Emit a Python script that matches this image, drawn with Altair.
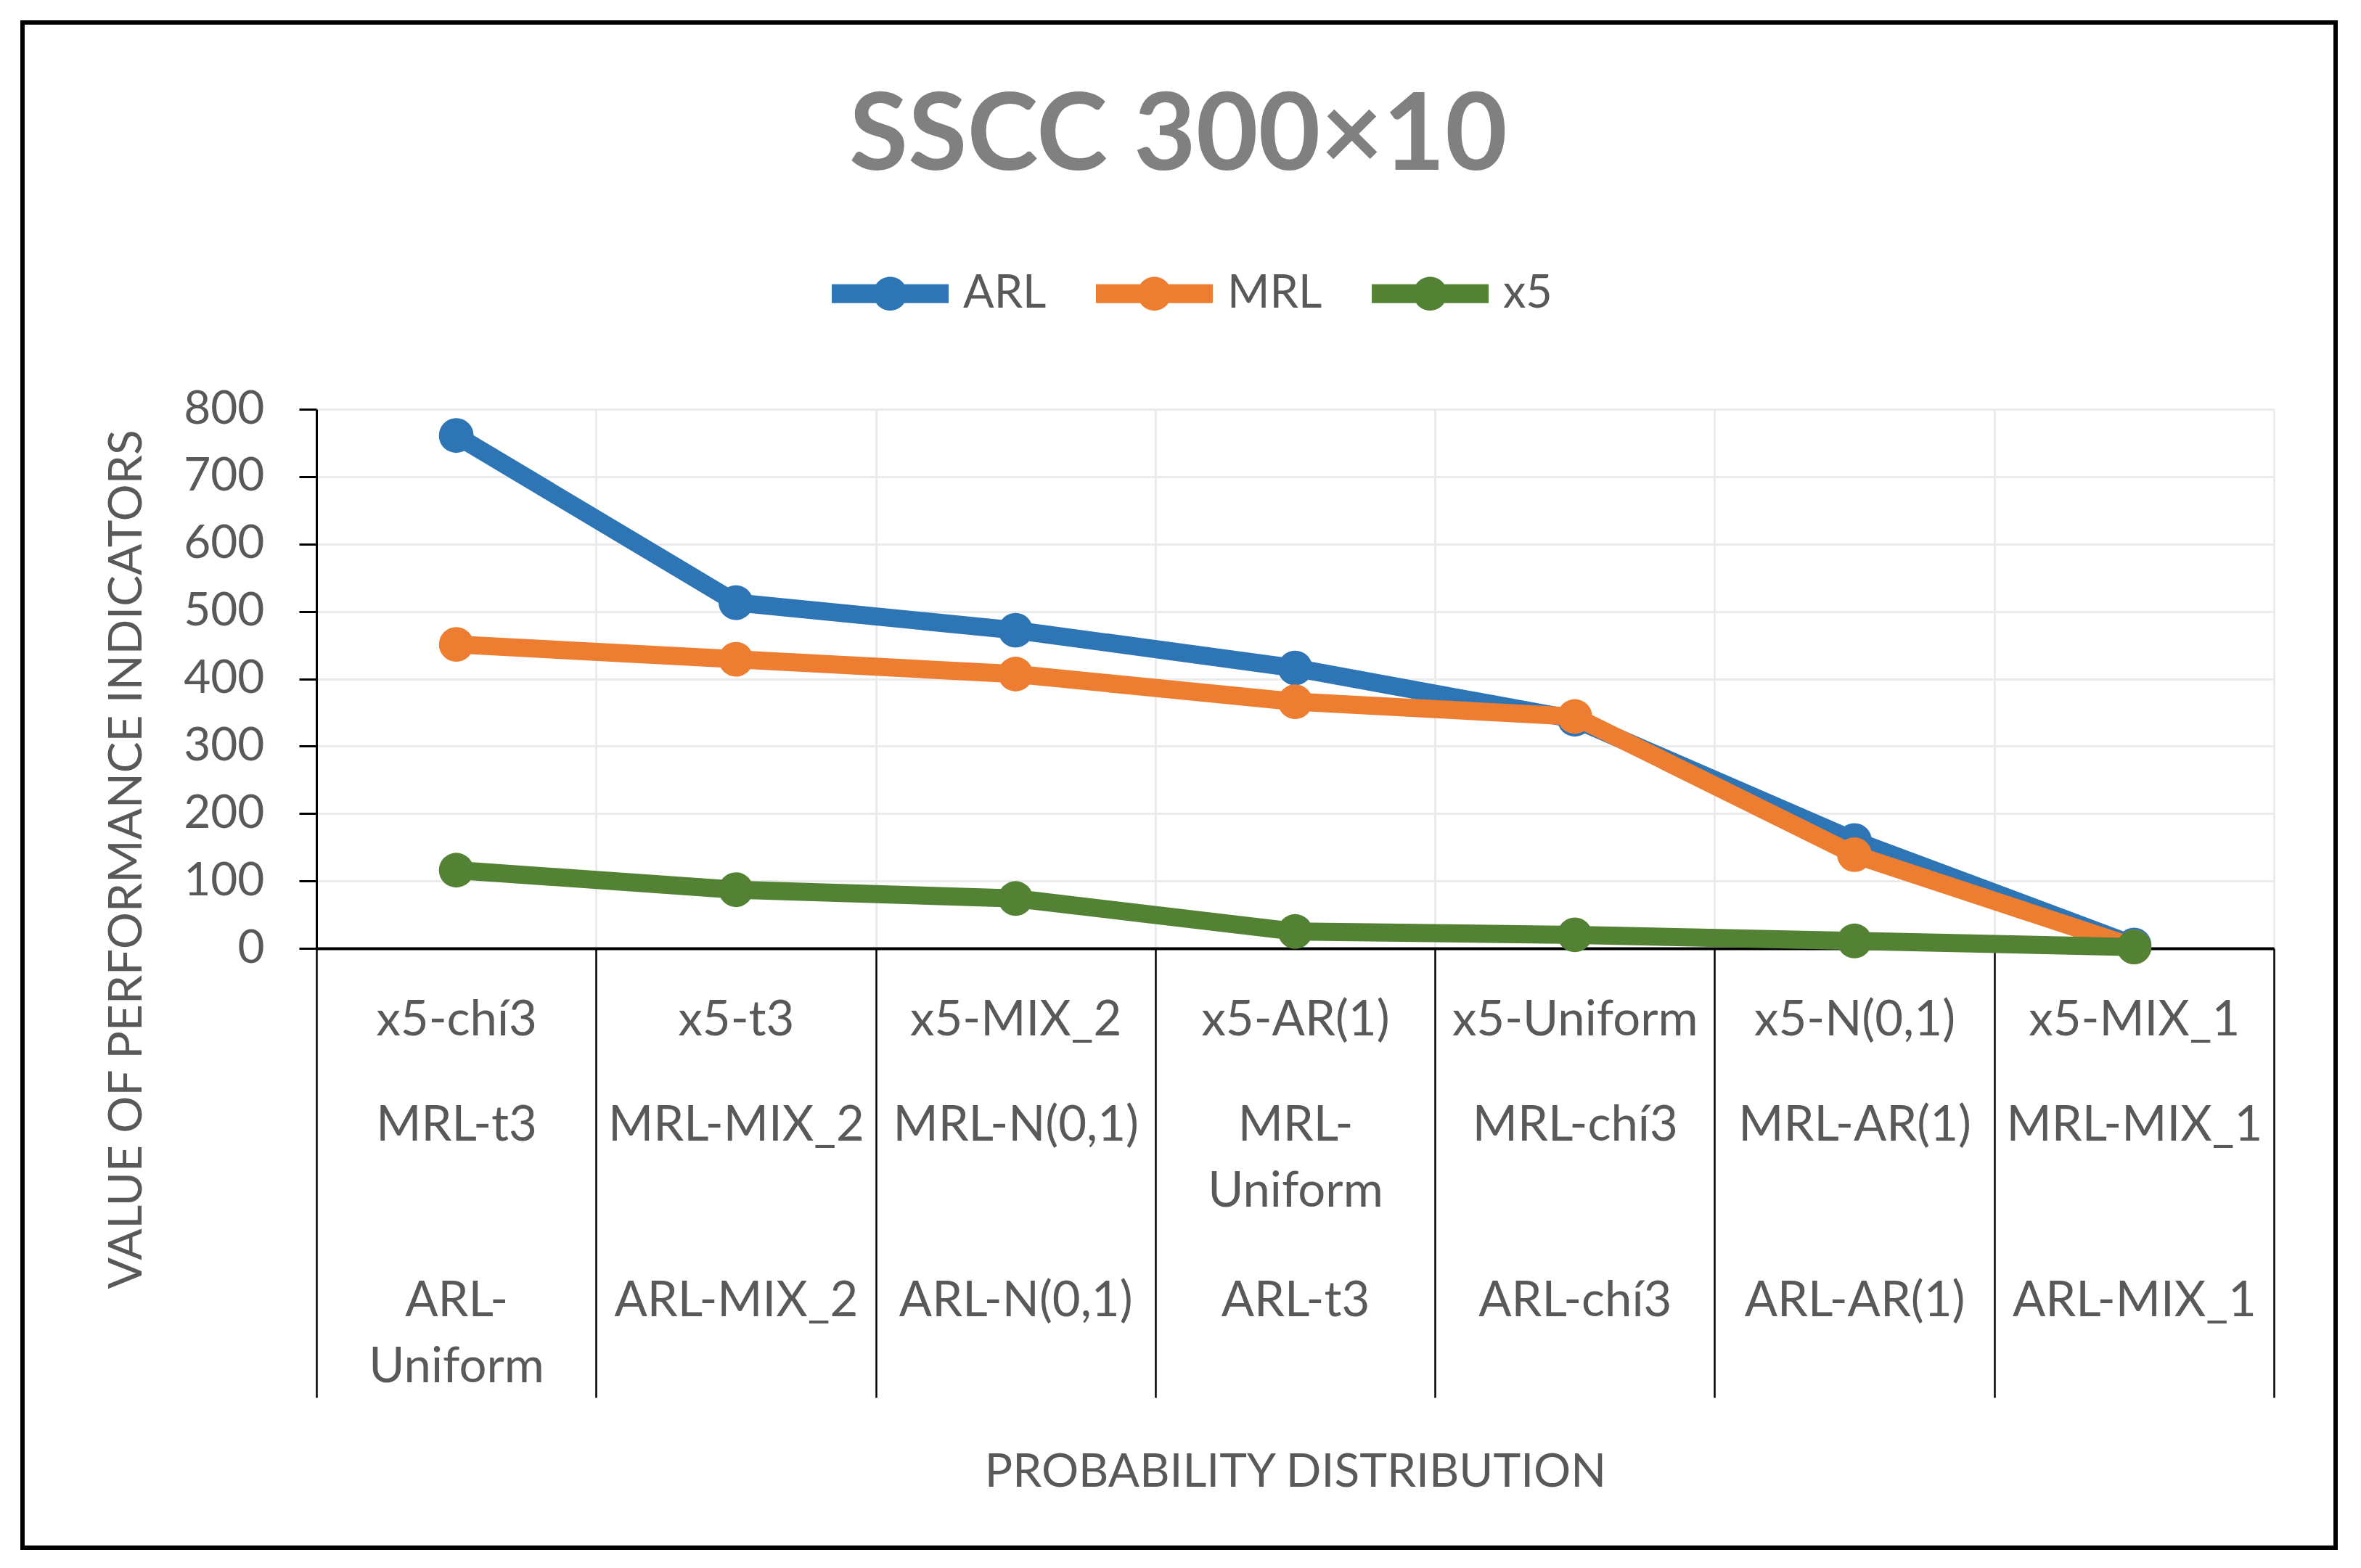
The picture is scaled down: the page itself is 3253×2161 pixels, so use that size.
import json
import altair as alt
import pandas as pd

# ---- data ----
series_names = ["ARL", "MRL", "x5"]
arl_values = [761, 513, 472, 416, 340, 160, 5]
mrl_values = [451, 429, 407, 366, 344, 139, 2]
x5_values = [116, 87, 74, 25, 20, 11, 2]

# category label rows ("|" marks a wrapped line)
x5_labels = ["x5-chí3", "x5-t3", "x5-MIX_2", "x5-AR(1)", "x5-Uniform", "x5-N(0,1)", "x5-MIX_1"]
mrl_labels = ["MRL-t3", "MRL-MIX_2", "MRL-N(0,1)", "MRL-|Uniform", "MRL-chí3", "MRL-AR(1)", "MRL-MIX_1"]
arl_labels = ["ARL-|Uniform", "ARL-MIX_2", "ARL-N(0,1)", "ARL-t3", "ARL-chí3", "ARL-AR(1)", "ARL-MIX_1"]

colors = ["#2E75B6", "#ED7D31", "#548235"]

# ---- build table ----
rows = []
for name, vals in zip(series_names, [arl_values, mrl_values, x5_values]):
    for i, v in enumerate(vals):
        rows.append({"series": name, "pos": i + 0.5, "value": v})
df = pd.DataFrame(rows)


def row_expr(labels):
    arr = json.dumps(labels, ensure_ascii=False)
    return "datum.value % 1 === 0 ? '' : split(" + arr + "[floor(datum.value)], '|')"


FONT = "Lato"
TXT = "#595959"
W, H = 2697, 743
TICK = 619
FIRST = 66          # distance of first label row below the axis line
ROW2 = FIRST + 145  # second label row
ROW3 = FIRST + 387  # third label row
is_edge = "datum.value % 1 === 0"
half_steps = [k / 2 for k in range(15)]

label_common = dict(
    values=half_steps,
    labelOverlap=False,
    labelFlush=False,
    labelBound=False,
    labelLimit=0,
    labelFont=FONT,
    labelFontSize=67,
    labelColor=TXT,
    labelLineHeight=91,
    labelBaseline="top",
    orient="bottom",
)

axis_row1 = alt.Axis(
    labelExpr=row_expr(x5_labels),
    labelPadding=FIRST - TICK,
    tickSize=TICK,
    tickWidth=2.5,
    tickColor={"condition": {"test": is_edge, "value": "black"}, "value": "transparent"},
    grid=True,
    gridWidth=3,
    gridColor={"condition": {"test": is_edge, "value": "#ebebeb"}, "value": "transparent"},
    domainColor="black",
    domainWidth=4,
    title="PROBABILITY DISTRIBUTION",
    titleFont=FONT,
    titleFontSize=64,
    titleFontWeight="normal",
    titleColor=TXT,
    titleBaseline="middle",
    titleY=722,
    **label_common,
)

axis_row2 = alt.Axis(
    labelExpr=row_expr(mrl_labels),
    labelPadding=ROW2,
    ticks=False,
    domain=False,
    grid=False,
    title=None,
    **label_common,
)

axis_row3 = alt.Axis(
    labelExpr=row_expr(arl_labels),
    labelPadding=ROW3,
    ticks=False,
    domain=False,
    grid=False,
    title=None,
    **label_common,
)

y_axis = alt.Axis(
    values=list(range(0, 801, 100)),
    tickSize=24,
    tickWidth=3,
    tickColor="black",
    domainColor="black",
    domainWidth=3,
    grid=True,
    gridColor="#ebebeb",
    gridWidth=3,
    labelFont=FONT,
    labelFontSize=64,
    labelColor=TXT,
    labelPadding=48,
    title="VALUE OF PERFORMANCE INDICATORS",
    titleFont=FONT,
    titleFontSize=64,
    titleFontWeight="normal",
    titleColor=TXT,
    titlePadding=45,
    titleY=620,
)

legend_symbol = (
    "M-1,-0.16L1,-0.16L1,0.16L-1,0.16Z"
    "M-0.29,0A0.29,0.29,0,1,1,0.29,0A0.29,0.29,0,1,1,-0.29,0Z"
)

color = alt.Color(
    "series:N",
    scale=alt.Scale(domain=series_names, range=colors),
    sort=series_names,
    legend=alt.Legend(
        orient="none",
        legendX=710,
        legendY=-240,
        direction="horizontal",
        title=None,
        symbolType=legend_symbol,
        symbolSize=25921,
        symbolStrokeWidth=0,
        symbolOpacity=1,
        labelFont=FONT,
        labelFontSize=63,
        labelColor=TXT,
        labelOffset=20,
        columnPadding=68,
    ),
)

x_scale = alt.Scale(domain=[0, 7], nice=False)
y_enc = alt.Y("value:Q", scale=alt.Scale(domain=[0, 800], nice=False), axis=y_axis)

frame = (
    alt.Chart(pd.DataFrame({"f": [0]}))
    .mark_rect(fill="transparent", stroke="black", strokeWidth=6, clip=False)
    .encode(
        x=alt.value(-405),
        x2=alt.value(2782),
        y=alt.value(-533),
        y2=alt.value(1569),
    )
)


def series_layer(name, axis):
    return (
        alt.Chart(df)
        .transform_filter(alt.datum.series == name)
        .mark_line(
            strokeWidth=25,
            point=alt.OverlayMarkDef(filled=True, size=2290, opacity=1),
        )
        .encode(
            x=alt.X("pos:Q", scale=x_scale, axis=axis),
            y=y_enc,
            color=color,
            order="pos:Q",
        )
    )


chart = (
    alt.layer(
        frame,
        series_layer("ARL", axis_row1),
        series_layer("MRL", axis_row2),
        series_layer("x5", axis_row3),
    )
    .resolve_axis(x="independent")
    .properties(
        width=W,
        height=H,
        title=alt.TitleParams(
            "SSCC 300×10",
            font=FONT,
            fontSize=148,
            fontWeight="bold",
            color="#808080",
            anchor="middle",
            frame="group",
            dx=-161,
            offset=-237,
        ),
        autosize=alt.AutoSizeParams(type="none"),
        padding={"left": 428, "top": 556, "right": 112, "bottom": 846},
        background="white",
    )
    .configure_view(stroke=None)
)

chart.save("out.html", embed_options={"renderer": "svg", "actions": False})
